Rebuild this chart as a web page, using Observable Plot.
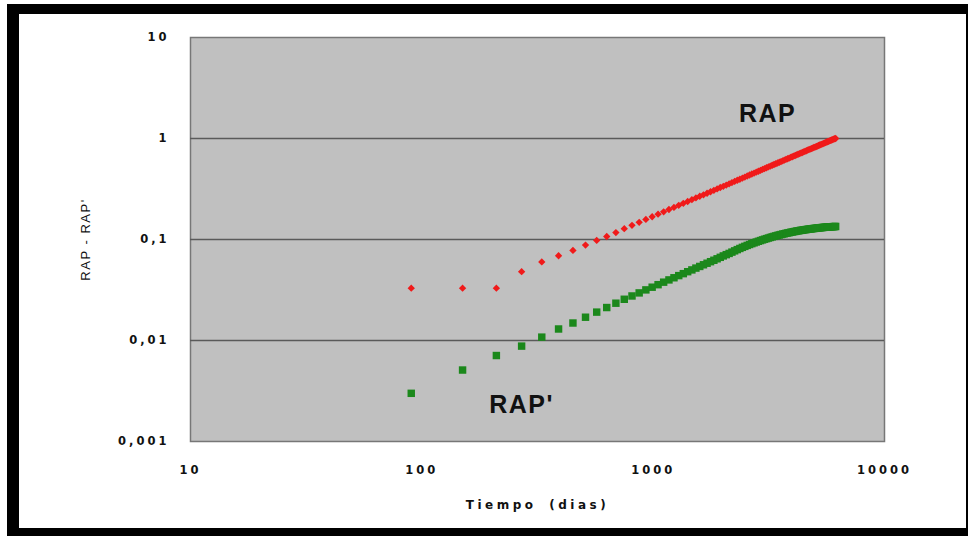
<!DOCTYPE html>
<html>
<head>
<meta charset="utf-8">
<script src="https://cdn.jsdelivr.net/npm/d3@7"></script>
<script src="https://cdn.jsdelivr.net/npm/@observablehq/plot@0.6"></script>
<style>
  html, body { margin: 0; padding: 0; background: #fff; }
  #wrap { position: relative; width: 968px; height: 536px; overflow: hidden; }
  #wrap svg { position: absolute; left: 0; top: 0; }
  #border {
    position: absolute; left: 7px; top: 4px; width: 961px; height: 532px;
    box-sizing: border-box; pointer-events: none;
    border-style: solid; border-color: #000;
    border-width: 10px 2px 8px 12px;
  }
  g[aria-label="x-axis tick label"] text,
  g[aria-label="y-axis tick label"] text { letter-spacing: 3px; }
  text[aria-label="x-title"] { letter-spacing: 3.5px; word-spacing: 5px; }
  text[aria-label="y-title"] { letter-spacing: 1.5px; }
  text[aria-label="serie"] { letter-spacing: 1.5px; }
</style>
</head>
<body>
<div id="wrap"><div id="border"></div></div>
<script>
// Tiempo (días) — una medición cada 60 días
const tiempo = [
  90, 150, 210, 270, 330, 390, 450, 510, 570, 630,
  690, 750, 810, 870, 930, 990, 1050, 1110, 1170, 1230,
  1290, 1350, 1410, 1470, 1530, 1590, 1650, 1710, 1770, 1830,
  1890, 1950, 2010, 2070, 2130, 2190, 2250, 2310, 2370, 2430,
  2490, 2550, 2610, 2670, 2730, 2790, 2850, 2910, 2970, 3030,
  3090, 3150, 3210, 3270, 3330, 3390, 3450, 3510, 3570, 3630,
  3690, 3750, 3810, 3870, 3930, 3990, 4050, 4110, 4170, 4230,
  4290, 4350, 4410, 4470, 4530, 4590, 4650, 4710, 4770, 4830,
  4890, 4950, 5010, 5070, 5130, 5190, 5250, 5310, 5370, 5430,
  5490, 5550, 5610, 5670, 5730, 5790, 5850, 5910, 5970, 6030,
  6090, 6150
];

// RAP (relación agua-petróleo)
const rap = [
  0.033, 0.033, 0.033, 0.048, 0.060, 0.069, 0.078, 0.088, 0.098, 0.107,
  0.117, 0.128, 0.138, 0.148, 0.158, 0.168, 0.178, 0.188, 0.198, 0.208,
  0.218, 0.228, 0.238, 0.248, 0.258, 0.268, 0.277, 0.287, 0.297, 0.307,
  0.317, 0.327, 0.336, 0.346, 0.356, 0.366, 0.376, 0.386, 0.395, 0.405,
  0.415, 0.425, 0.435, 0.445, 0.454, 0.464, 0.474, 0.484, 0.494, 0.504,
  0.513, 0.523, 0.533, 0.543, 0.553, 0.562, 0.572, 0.582, 0.591, 0.601,
  0.611, 0.621, 0.630, 0.640, 0.650, 0.660, 0.669, 0.679, 0.689, 0.698,
  0.708, 0.717, 0.727, 0.737, 0.746, 0.756, 0.766, 0.775, 0.785, 0.794,
  0.804, 0.814, 0.823, 0.833, 0.842, 0.852, 0.862, 0.871, 0.881, 0.890,
  0.900, 0.910, 0.919, 0.929, 0.938, 0.948, 0.957, 0.967, 0.976, 0.986,
  0.995, 1.000
];

// RAP' (derivada de la RAP)
const rapPrima = [
  0.0030, 0.0051, 0.0071, 0.0088, 0.0108, 0.0130, 0.0149, 0.0170, 0.0191, 0.0212,
  0.0234, 0.0256, 0.0276, 0.0296, 0.0317, 0.0337, 0.0357, 0.0378, 0.0398, 0.0418,
  0.0439, 0.0459, 0.0480, 0.0500, 0.0521, 0.0541, 0.0562, 0.0582, 0.0603, 0.0623,
  0.0644, 0.0666, 0.0688, 0.0708, 0.0728, 0.0750, 0.0772, 0.0794, 0.0815, 0.0836,
  0.0855, 0.0874, 0.0892, 0.0910, 0.0927, 0.0944, 0.0960, 0.0976, 0.0991, 0.1006,
  0.1020, 0.1034, 0.1048, 0.1061, 0.1074, 0.1086, 0.1098, 0.1109, 0.1120, 0.1131,
  0.1141, 0.1151, 0.1160, 0.1169, 0.1178, 0.1187, 0.1195, 0.1203, 0.1211, 0.1218,
  0.1225, 0.1232, 0.1238, 0.1244, 0.1250, 0.1256, 0.1261, 0.1266, 0.1271, 0.1276,
  0.1281, 0.1285, 0.1290, 0.1294, 0.1298, 0.1302, 0.1306, 0.1310, 0.1313, 0.1317,
  0.1320, 0.1323, 0.1326, 0.1329, 0.1332, 0.1334, 0.1336, 0.1338, 0.1340, 0.1342,
  0.1344, 0.1346
];

const xTicks = [10, 100, 1000, 10000];
const yTicks = [0.001, 0.01, 0.1, 1, 10];
const yTickLabels = ["0,001", "0,01", "0,1", "1", "10"];
const gridValues = [0.01, 0.1, 1];
const xTitle = "Tiempo (dias)";
const yTitle = "RAP - RAP'";
const seriesNames = ["RAP", "RAP'"];
const seriesLabelT = [3124, 270];
const seriesLabelV = [1.73, 0.0023];

const rows = tiempo.map((t, i) => ({t, rap: rap[i], rapPrima: rapPrima[i]}));
const seriesLabels = seriesNames.map((text, i) => ({text, t: seriesLabelT[i], v: seriesLabelV[i]}));

const tickFont = {fontFamily: "'DejaVu Sans', sans-serif", fontWeight: "bold", fontSize: 11.5, fill: "#111"};

const chart = Plot.plot({
  width: 968,
  height: 536,
  marginLeft: 190,
  marginRight: 84,
  marginTop: 37,
  marginBottom: 95,
  style: {fontFamily: "'Liberation Sans', Arial, sans-serif", fontSize: "12px", background: "transparent", color: "#111", overflow: "visible"},
  x: {type: "log", domain: [10, 10000]},
  y: {type: "log", domain: [0.001, 10]},
  marks: [
    Plot.frame({fill: "#c0c0c0", stroke: "#777", strokeWidth: 1.5}),
    Plot.ruleY(gridValues, {stroke: "#5a5a5a", strokeWidth: 1.5}),
    Plot.dot(rows, {x: "t", y: "rapPrima", symbol: "square", r: 4.2, fill: "#1b881b", stroke: "none"}),
    Plot.dot(rows, {x: "t", y: "rap", symbol: "diamond2", r: 3.3, fill: "#f01a1a", stroke: "none"}),
    Plot.axisX(xTicks, {tickSize: 0, tickPadding: 24, tickFormat: d => String(d), label: null, ...tickFont}),
    Plot.axisY(yTicks, {tickSize: 0, tickPadding: 21, tickFormat: d => yTickLabels[yTicks.indexOf(d)], label: null, ...tickFont}),
    Plot.text([yTitle], {frameAnchor: "left", dx: -105, rotate: -90, textAnchor: "middle", text: d => d, fontSize: 13, fill: "#111", ariaLabel: () => "y-title"}),
    Plot.text([xTitle], {frameAnchor: "bottom", dy: 67, textAnchor: "middle", text: d => d, fontSize: 12, fontWeight: "bold", fill: "#111", fontFamily: "'DejaVu Sans', sans-serif", ariaLabel: () => "x-title"}),
    Plot.text(seriesLabels, {x: "t", y: "v", text: "text", fontSize: 25, fontWeight: "bold", fill: "#111", ariaLabel: () => "serie"})
  ]
});

document.getElementById("wrap").insertBefore(chart, document.getElementById("border"));
</script>
</body>
</html>
